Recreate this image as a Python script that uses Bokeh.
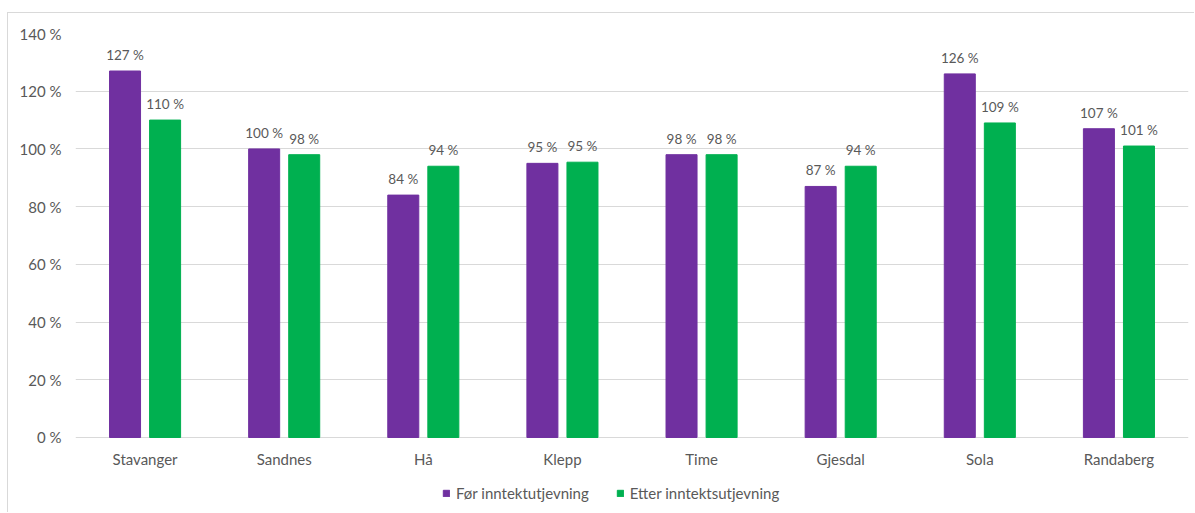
from bokeh.plotting import figure
from bokeh.models import FactorRange, FixedTicker, PrintfTickFormatter, ColumnDataSource, Legend, LegendItem, Range1d
from bokeh.transform import dodge
from bokeh.embed import file_html
from bokeh.resources import INLINE

kommuner = ["Stavanger", "Sandnes", "Hå", "Klepp", "Time", "Gjesdal", "Sola", "Randaberg"]
for_utj = [127, 100, 84, 95, 98, 87, 126, 107]
etter_utj = [110, 98, 94, 95.4, 98, 94, 109, 101]
y_ticks = [0, 20, 40, 60, 80, 100, 120, 140]
serie_navn = ["Før inntektutjevning", "Etter inntektsutjevning"]

PURPLE = "#7030A0"
GREEN = "#00B050"
TXT = "#595959"
GRID = "#d9d9d9"
FONT = "Lato"

src = ColumnDataSource(dict(
    x=kommuner,
    a=for_utj,
    b=etter_utj,
    la=[f"{round(v)} %" for v in for_utj],
    lb=[f"{round(v)} %" for v in etter_utj],
))

# frame spans down to the canvas bottom so the legend can sit under the x axis
p = figure(x_range=FactorRange(*kommuner, range_padding=0), y_range=Range1d(-26.34, 140),
           width=1187, height=500, output_backend="svg", toolbar_location=None,
           min_border_left=67, min_border_right=7, min_border_top=20, min_border_bottom=0)
p.styles = {"margin-left": "7px", "margin-top": "12px",
            "border-left": f"1px solid {GRID}", "border-top": f"1px solid {GRID}"}
p.outline_line_color = None

ra = p.vbar(x=dodge("x", -0.144, range=p.x_range), top="a", width=0.223, source=src,
            fill_color=PURPLE, line_color=PURPLE)
rb = p.vbar(x=dodge("x", 0.144, range=p.x_range), top="b", width=0.223, source=src,
            fill_color=GREEN, line_color=GREEN)

p.text(x=dodge("x", -0.144, range=p.x_range), y="a", text="la", source=src,
       text_align="center", text_baseline="middle", y_offset=-16,
       text_font_size="13.5px", text_color=TXT, text_font={"value": FONT})
p.text(x=dodge("x", 0.144, range=p.x_range), y="b", text="lb", source=src,
       text_align="center", text_baseline="middle", y_offset=-16,
       text_font_size="13.5px", text_color=TXT, text_font={"value": FONT})

p.xgrid.grid_line_color = None
p.ygrid.grid_line_color = GRID
p.ygrid.grid_line_width = 1
p.yaxis.ticker = FixedTicker(ticks=y_ticks)
p.yaxis.formatter = PrintfTickFormatter(format="%d %%")
p.xaxis.fixed_location = 0

for ax in (p.xaxis[0], p.yaxis[0]):
    ax.axis_line_color = None
    ax.major_tick_line_color = None
    ax.minor_tick_line_color = None
    ax.major_tick_out = 0
    ax.major_tick_in = 0
    ax.major_label_text_font = FONT
    ax.major_label_text_font_size = "15px"
    ax.major_label_text_color = TXT
p.yaxis.major_label_standoff = 14
p.xaxis.major_label_standoff = 13

legend = Legend(items=[LegendItem(label=serie_navn[0], renderers=[ra]),
                       LegendItem(label=serie_navn[1], renderers=[rb])],
                orientation="horizontal", location=(367, 11),
                padding=0, margin=0, spacing=27, label_standoff=6,
                glyph_width=8, glyph_height=8, label_height=16,
                label_text_font=FONT, label_text_font_size="15px", label_text_color=TXT,
                border_line_alpha=0, background_fill_alpha=0)
p.add_layout(legend, "center")

open("out.html", "w").write(file_html(p, INLINE))
